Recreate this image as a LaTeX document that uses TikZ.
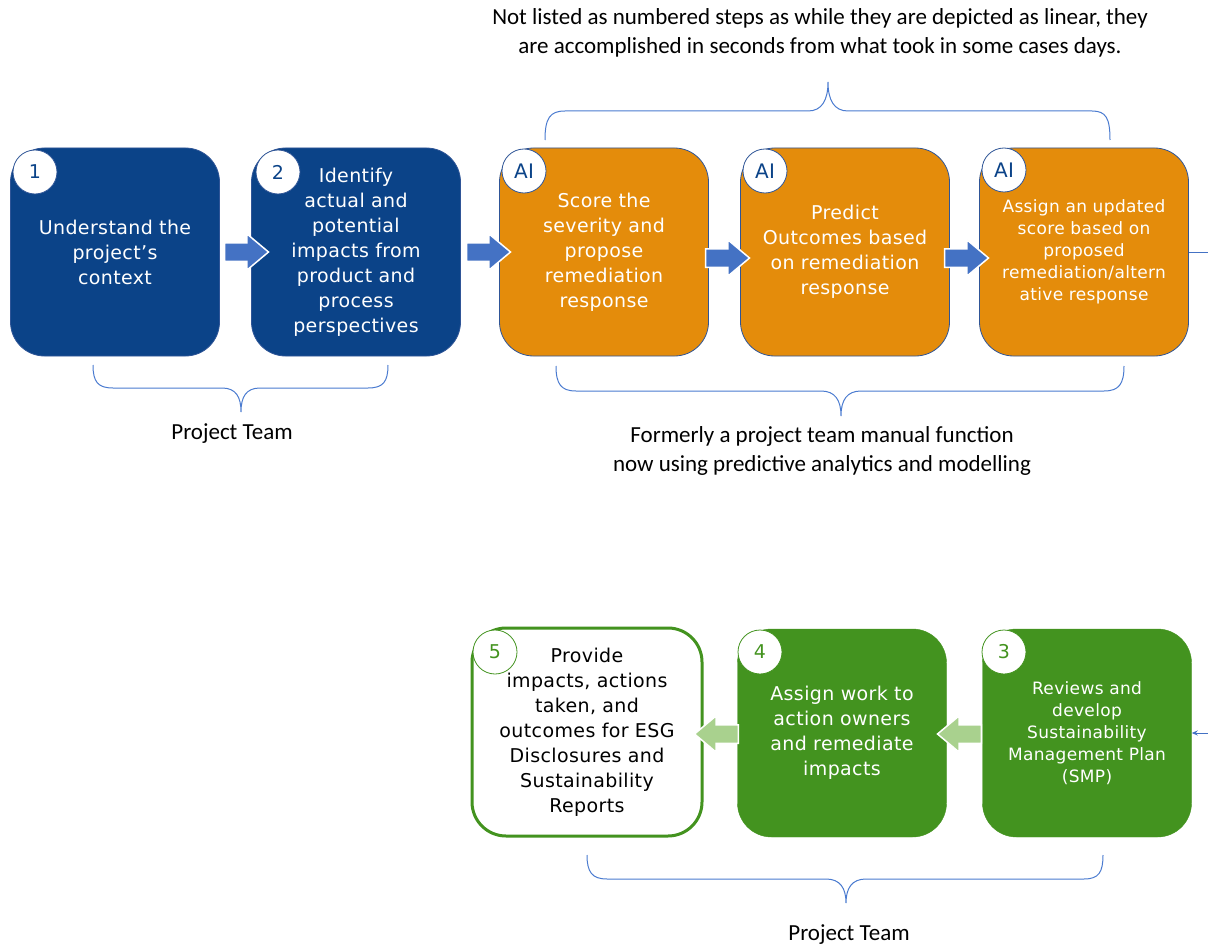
\documentclass[tikz,border=0pt]{standalone}
\usepackage{fontspec}
\setmainfont{DejaVu Sans}[LetterSpace=2]
\newfontfamily\capfont{Carlito}
\usetikzlibrary{shapes.arrows,arrows.meta}
\definecolor{dblue}{HTML}{0B4388}
\definecolor{orng}{HTML}{E48C0B}
\definecolor{grn}{HTML}{43931F}
\definecolor{abl}{HTML}{4472C4}
\definecolor{lgrn}{HTML}{A9D18E}
\definecolor{brc}{HTML}{4A7BD0}
\definecolor{edgec}{HTML}{2F5597}
\tikzset{
  box/.style={rounded corners=34pt, minimum width=209pt, minimum height=208pt, inner sep=0pt, align=center, text width=200pt, font=\fontsize{19}{25}\selectfont},
  bluebox/.style={box, fill=dblue, draw=edgec, line width=0.8pt, text=white},
  orbox/.style={box, fill=orng, draw=edgec, line width=0.8pt, text=white},
  gbox/.style={box, fill=grn, draw=grn, text=white},
  wbox/.style={box, fill=white, draw=grn, line width=3pt, text=black},
  smalltext/.style={font=\fontsize{17}{22}\selectfont},
  badge/.style={circle, fill=white, draw=edgec, line width=0.8pt, minimum size=44pt, inner sep=0pt, font=\fontsize{19}{19}\selectfont, text=dblue},
  aibadge/.style={badge, font=\fontsize{20}{20}\selectfont},
  gbadge/.style={badge, draw=grn, text=grn},
  barrow/.style={single arrow, fill=abl, draw=white, line width=1.5pt, minimum height=44pt, inner xsep=0pt, inner ysep=8.5pt, single arrow head extend=9pt, single arrow tip angle=80},
  garrow/.style={barrow, fill=lgrn, shape border rotate=180},
  bracec/.style={draw=brc, line width=1pt},
  conn/.style={draw=abl, line width=1pt},
  captext/.style={font=\capfont\fontsize{23}{29}\selectfont, align=center, text=black}
}
\begin{document}
\begin{tikzpicture}[x=1pt,y=-1pt]
\useasboundingbox (0,0) rectangle (1208,947);
\fill[white] (0,0) rectangle (1208,947);

% top row boxes
\node[bluebox] (b1) at (115,252) {Understand the\\project's\\context};
\node[bluebox] (b2) at (356,252) {Identify\\actual and\\potential\\impacts from\\product and\\process\\perspectives};
\node[orbox] (ai1) at (604,252) {Score the\\severity and\\propose\\remediation\\response};
\node[orbox] (ai2) at (845,252) {Predict\\Outcomes based\\on remediation\\response};
\node[orbox,smalltext] (ai3) at (1084,252) {Assign an updated\\score based on\\proposed\\remediation/altern\\ative response};

% bottom row boxes
\node[gbox,smalltext] (g3) at (1087,733) {Reviews and\\develop\\Sustainability\\Management Plan\\(SMP)};
\node[gbox] (g4) at (842,733) {Assign work to\\action owners\\and remediate\\impacts};
\node[wbox, minimum width=230pt] (g5) at (587,732) {Provide\\impacts, actions\\taken, and\\outcomes for ESG\\Disclosures and\\Sustainability\\Reports};

% badges
\node[badge] (n1) at (35,172) {1};
\node[badge] (n2) at (278,172) {2};
\node[aibadge] (n3) at (524,171) {AI};
\node[aibadge] (n4) at (765,171) {AI};
\node[aibadge] (n5) at (1004,170) {AI};
\node[gbadge] (n6) at (1004,652) {3};
\node[gbadge] (n7) at (760,652) {4};
\node[gbadge] (n8) at (495,652) {5};

% block arrows
\node[barrow] (a1) at (241,252) {};
\node[barrow] (a2) at (483,252) {};
\node[barrow] (a3) at (722,258) {};
\node[barrow] (a4) at (961,258) {};
\node[garrow] (a5) at (722,734) {};
\node[garrow] (a6) at (965,734) {};

% connector off the right edge
\coordinate (rEdge) at (1212,0);
\draw[conn] (ai3.east) -- (ai3.east -| rEdge);
\draw[conn,-{Stealth[length=6pt,width=5pt]}] (rEdge |- g3.east) -- (g3.east);

% braces
\draw[bracec] (545,140) .. controls (545,118) and (550,111) .. (565,111) -- (808,111)
  .. controls (822,111) and (828,100) .. (828,82)
  .. controls (828,100) and (834,111) .. (848,111) -- (1092,111)
  .. controls (1106,111) and (1110,118) .. (1110,140);
\draw[bracec] (93,365) .. controls (93,382) and (98,388) .. (113,388) -- (222,388)
  .. controls (236,388) and (241,397) .. (241,412)
  .. controls (241,397) and (246,388) .. (260,388) -- (368,388)
  .. controls (383,388) and (388,382) .. (388,365);
\draw[bracec] (556,366) .. controls (556,384) and (561,391) .. (576,391) -- (821,391)
  .. controls (835,391) and (841,400) .. (841,416)
  .. controls (841,400) and (847,391) .. (861,391) -- (1104,391)
  .. controls (1119,391) and (1124,384) .. (1124,366);
\draw[bracec] (587,855) .. controls (587,872) and (592,879) .. (607,879) -- (826,879)
  .. controls (840,879) and (846,888) .. (846,903)
  .. controls (846,888) and (852,879) .. (866,879) -- (1084,879)
  .. controls (1099,879) and (1103,872) .. (1103,855);

% captions
\node[captext] (t1) at (820,33) {Not listed as numbered steps as while they are depicted as linear, they\\are accomplished in seconds from what took in some cases days.};
\node[captext] (t2) at (232,434) {Project Team};
\node[captext] (t3) at (822,451) {Formerly a project team manual function\\now using predictive analytics and modelling};
\node[captext] (t4) at (849,935) {Project Team};
\end{tikzpicture}
\end{document}
